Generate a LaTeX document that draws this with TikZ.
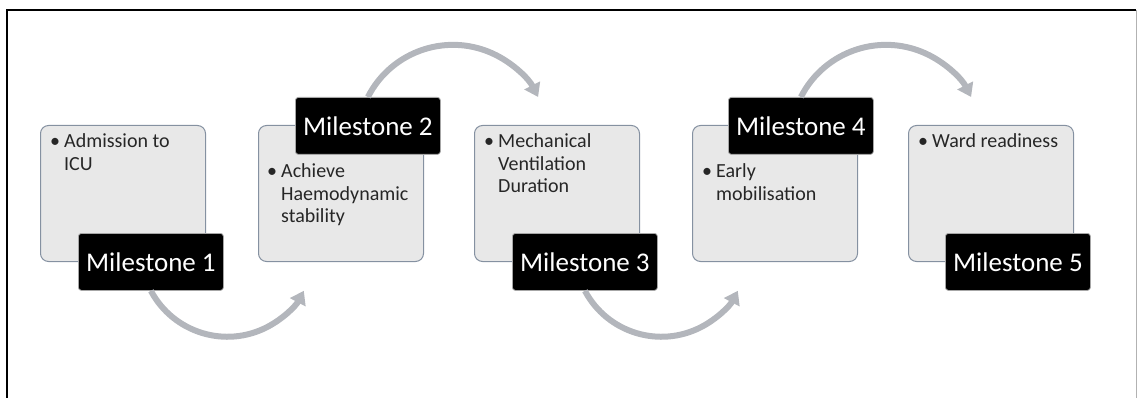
\documentclass[tikz,border=0pt]{standalone}
\usepackage{fontspec}
\setmainfont{Carlito}
\usetikzlibrary{arrows.meta}
\definecolor{boxfill}{HTML}{E8E8E8}
\definecolor{boxline}{HTML}{8591A1}
\definecolor{arrowgray}{HTML}{B3B6BC}
\definecolor{bodytext}{HTML}{262626}
% lines stacked from the top, the first line's baseline being the node's base
\newcommand{\toplines}[1]{\begin{tabular}[t]{@{}l@{}}#1\end{tabular}}
\tikzset{
  x=1pt, y=1pt,
  stagebox/.style={draw=boxline, fill=boxfill, line width=1pt, rounded corners=8pt,
    minimum width=165pt, minimum height=136pt, inner sep=0pt, anchor=north west},
  milestone/.style={draw=gray!70, fill=black, text=white, line width=0.8pt, rounded corners=3pt,
    minimum width=145pt, minimum height=57pt, inner sep=0pt, anchor=north west,
    font=\fontsize{27}{30}\selectfont},
  bullet/.style={text=bodytext, inner sep=0pt, anchor=base west, font=\fontsize{20}{22.5}\selectfont},
  bodytxt/.style={text=bodytext, inner sep=0pt, anchor=base west,
    font=\fontsize{20}{22.5}\selectfont},
  flow/.style={draw=arrowgray, line width=6pt, -{Triangle[length=13pt,width=17pt]}}
}
\begin{document}
\begin{tikzpicture}
\useasboundingbox (0,0) rectangle (1137,-398);
% frame
\draw[black, line width=2pt] (7,-398) -- (7,-10) -- (1136,-10);
\draw[gray!60, line width=1pt] (1136,-10) -- (1136,-398);

% stage boxes
\node[stagebox] (b1) at (40,-125) {};
\node[stagebox] (b2) at (258,-125) {};
\node[stagebox] (b3) at (474,-125) {};
\node[stagebox] (b4) at (692,-125) {};
\node[stagebox] (b5) at (908,-125) {};

% bullet texts
\node[bullet] (d1) at (50,-148) {\textbullet};
\node[bodytxt] (t1) at (64,-148) {\toplines{Admission to\\ICU}};
\node[bullet] (d2) at (267,-178) {\textbullet};
\node[bodytxt] (t2) at (281,-178) {\toplines{Achieve\\Haemodynamic\\stability}};
\node[bullet] (d3) at (484,-148) {\textbullet};
\node[bodytxt] (t3) at (498,-148) {\toplines{Mechanical\\Ventilation\\Duration}};
\node[bullet] (d4) at (702,-178) {\textbullet};
\node[bodytxt] (t4) at (716,-178) {\toplines{Early\\mobilisation}};
\node[bullet] (d5) at (918,-148) {\textbullet};
\node[bodytxt] (t5) at (932,-148) {Ward readiness};

% milestone labels
\node[milestone] (m1) at (78,-233) {Milestone 1};
\node[milestone] (m2) at (295,-97) {Milestone 2};
\node[milestone] (m3) at (512,-233) {Milestone 3};
\node[milestone] (m4) at (728,-97) {Milestone 4};
\node[milestone] (m5) at (945,-233) {Milestone 5};

% connecting arcs
\draw[flow] (m1.south) arc[start angle=208, end angle=332, radius=86.6];
\draw[flow] (m2.north) arc[start angle=153, end angle=27, radius=95.5];
\draw[flow] (m3.south) arc[start angle=208, end angle=332, radius=86.6];
\draw[flow] (m4.north) arc[start angle=153, end angle=27, radius=95.5];
\end{tikzpicture}
\end{document}
